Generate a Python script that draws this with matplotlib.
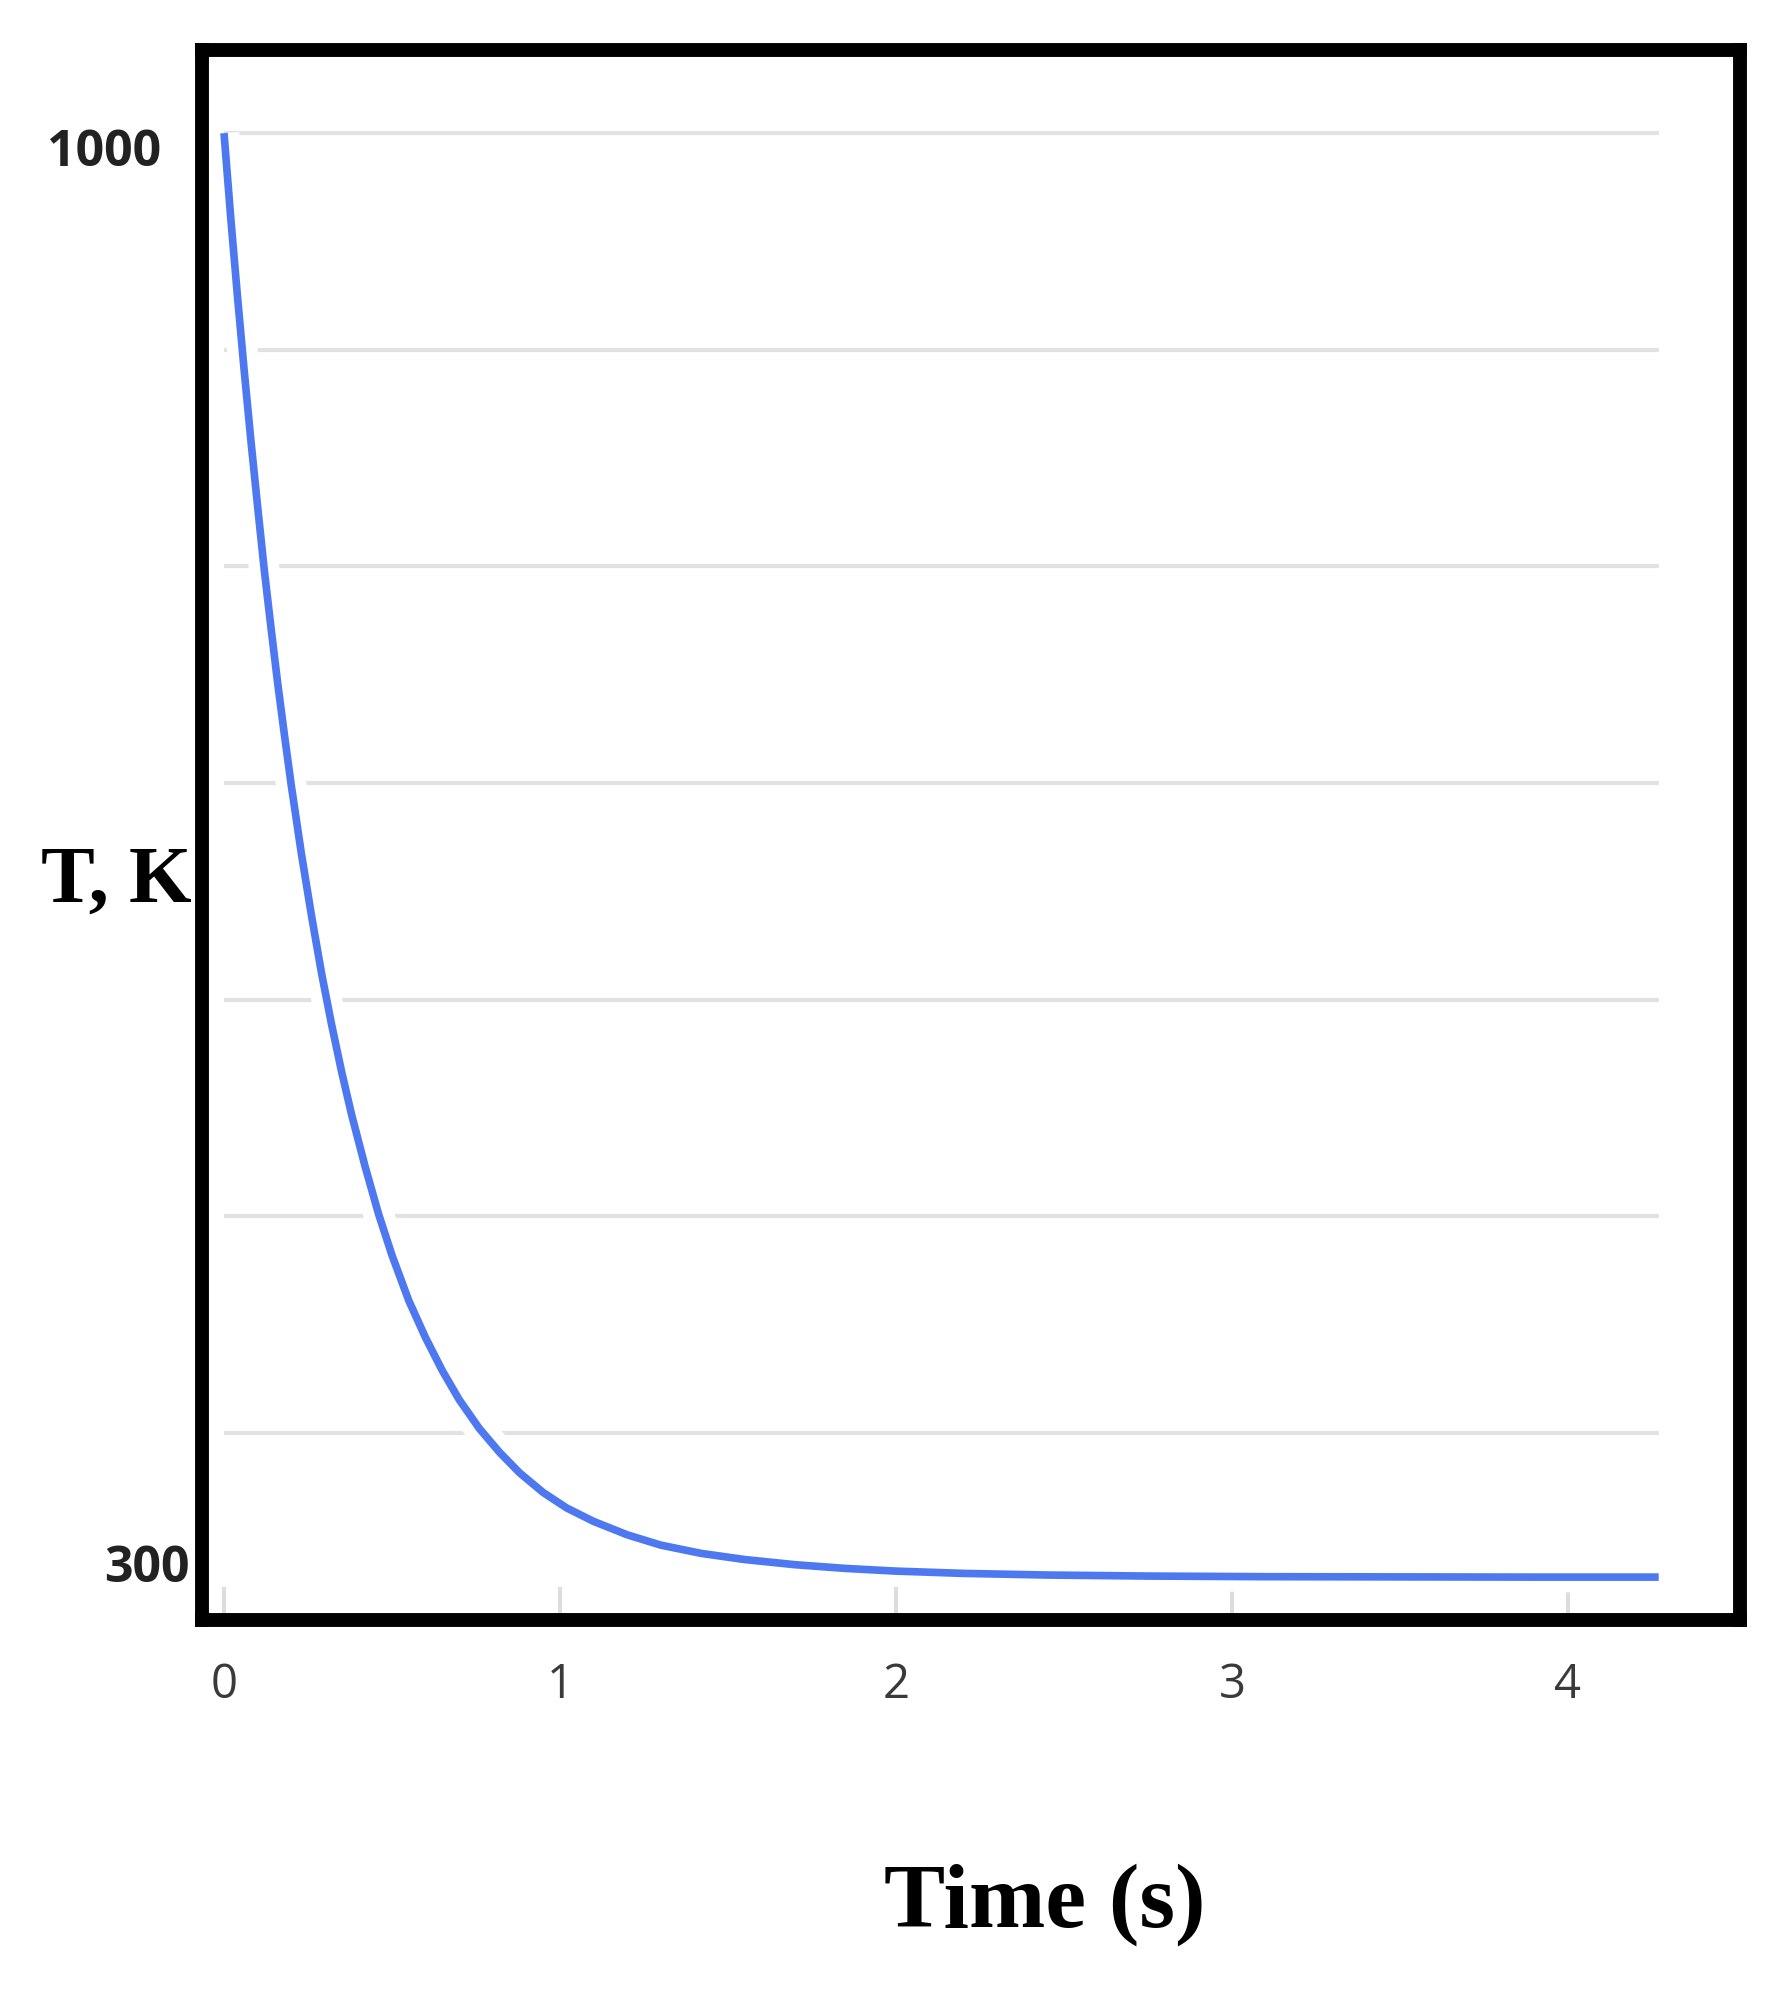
import matplotlib
matplotlib.use("Agg")
import matplotlib.pyplot as plt
import matplotlib.patheffects as pe
import matplotlib.transforms as mtransforms

# values
time_s = [0, 0.02, 0.04, 0.06, 0.08, 0.10, 0.12, 0.14, 0.16, 0.18, 0.20,
          0.23, 0.26, 0.29, 0.32, 0.35, 0.38, 0.42, 0.46, 0.50, 0.55, 0.60,
          0.65, 0.70, 0.76, 0.82, 0.88, 0.95, 1.02, 1.10, 1.20, 1.30, 1.42,
          1.55, 1.70, 1.85, 2.0, 2.2, 2.45, 2.75, 3.1, 3.5, 3.9, 4.27]
temp_k = [1000, 959, 921, 885, 851, 819, 788, 760, 733, 708, 684,
          651, 621, 593, 568, 545, 524, 499, 476, 456, 434, 416,
          400, 386, 372, 360.5, 350.5, 341, 333.5, 327, 320.5, 315.5, 311.5,
          308.5, 306, 304.2, 302.9, 301.8, 301, 300.5, 300.2, 300.1, 300, 300]

grid_vals = [1000, 895, 790, 685, 580, 475, 370]
x_ticks = [0, 1, 2, 3, 4]
x_labels = ["0", "1", "2", "3", "4"]
y_ticks = [1000, 300]
y_labels = ["1000", "300"]

W, H = 1787, 1993
fig = plt.figure(figsize=(W / 100, H / 100), dpi=100)
fig.patch.set_facecolor("white")

left, right, top, bottom = 201.5, 1740, 50, 1620
ax = fig.add_axes([left / W, 1 - bottom / H, (right - left) / W, (bottom - top) / H])
ax.set_xlim(-0.067, 4.512)
ax.set_ylim(279.2, 1040.3)

# gridlines only across the data range
ax.hlines(grid_vals, 0, time_s[-1], colors="#e2e2e2", linewidth=3, zorder=1)

ax.plot(time_s, temp_k, color="#4d78f0", linewidth=5.5, solid_capstyle="butt",
        solid_joinstyle="round", zorder=3,
        path_effects=[pe.Stroke(linewidth=22, foreground="white"), pe.Normal()])

for side in ax.spines.values():
    side.set_linewidth(10)
    side.set_color("black")
    side.set_zorder(5)

ax.set_xticks(x_ticks)
ax.set_xticklabels(x_labels, fontsize=34, family="Open Sans", color="#3a3a3a")
ax.tick_params(axis="x", direction="in", length=24, width=3, color="#dcdcdc",
               pad=30)
ax.set_yticks([])

# y labels placed by hand (they sit off the gridlines in the original)
offsets = [-20, 8]
xs = [-0.0634, -0.0354]
for val, lab, dy, xa in zip(y_ticks, y_labels, offsets, xs):
    tr = mtransforms.blended_transform_factory(ax.transAxes, ax.transData)
    tr = tr + mtransforms.ScaledTranslation(0, dy / 100, fig.dpi_scale_trans)
    ax.text(xa, val, lab, transform=tr, ha="center", va="center",
            fontsize=36, fontweight="bold", family="Open Sans", color="#222222")

fig.text(116 / W, 1 - 882 / H, "T, K", ha="center", va="center",
         fontsize=58, fontweight="bold", family="Liberation Serif", color="black")
fig.text(1045 / W, 1 - 1905 / H, "Time (s)", ha="center", va="center",
         fontsize=66, fontweight="bold", family="Liberation Serif", color="black")

fig.savefig("out.png", dpi=100, facecolor="white")
